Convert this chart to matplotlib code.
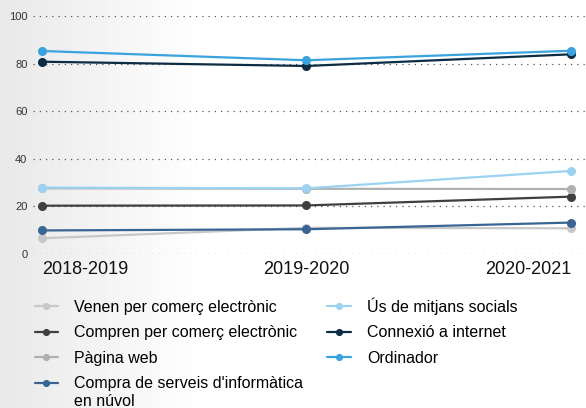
#!/usr/bin/env python3
"""Ús de les TIC a les empreses, per curs (%)."""

import numpy as np
import matplotlib
matplotlib.use("Agg")
import matplotlib.pyplot as plt

plt.rcParams["font.family"] = ["Liberation Sans", "DejaVu Sans"]

PERIODS = ["2018-2019", "2019-2020", "2020-2021"]

venen_comerc = [6.6, 11.0, 10.8]
compren_comerc = [20.3, 20.4, 24.1]
pagina_web = [27.6, 27.4, 27.3]
compra_nuvol = [9.9, 10.4, 13.2]
mitjans_socials = [27.9, 27.6, 34.9]
connexio_internet = [80.8, 79.0, 83.9]
ordinador = [85.3, 81.4, 85.4]

SERIES = [
    ("Venen per comerç electrònic", venen_comerc, "#c8c8c8"),
    ("Compren per comerç electrònic", compren_comerc, "#3f3f3f"),
    ("Pàgina web", pagina_web, "#b0b0b0"),
    ("Compra de serveis d'informàtica", compra_nuvol, "#386592"),
    ("Ús de mitjans socials", mitjans_socials, "#9dd3f1"),
    ("Connexió a internet", connexio_internet, "#0c2c44"),
    ("Ordinador", ordinador, "#3aa2dd"),
]
# second line of the wrapped legend entry
WRAP_LABEL = "Compra de serveis d'informàtica"
WRAP_TAIL = "en núvol"

Y_TICKS = [0, 20, 40, 60, 80, 100]

fig = plt.figure(figsize=(5.86, 4.08), dpi=100)

# soft grey fade on the left edge
bg = fig.add_axes([0, 0, 1, 1], zorder=-10)
grad = np.clip(np.linspace(0, 1, 586) / 0.35, 0, 1)
shade = 0.91 + 0.09 * grad
bg.imshow(np.tile(shade, (2, 1)), cmap="gray", vmin=0, vmax=1,
          aspect="auto", extent=[0, 1, 0, 1])
bg.axis("off")

ax = fig.add_axes([33 / 586, 1 - 254 / 408, 1 - 33 / 586, 238 / 408])
ax.patch.set_alpha(0)
x = np.arange(len(PERIODS))

for label, values, color in SERIES:
    ax.plot(x, values, color=color, lw=1.6, marker="o", markersize=5.5,
            label=label, clip_on=False, solid_capstyle="round")

ax.set_xlim(-0.034, 2.057)
ax.set_ylim(0, 100)
ax.set_yticks(Y_TICKS)
ax.set_xticks(x)
ax.set_xticklabels(PERIODS, fontsize=13, color="#111111")
# first label starts at its point, last one ends at it
for tick, ha in zip(ax.get_xticklabels(), ["left", "center", "right"]):
    tick.set_ha(ha)
ax.tick_params(axis="y", labelsize=8, colors="#333333", length=0, pad=4)
ax.tick_params(axis="x", length=0, pad=5)
ax.grid(True, axis="y", color="#555555", linestyle=(0, (1, 4)), linewidth=0.9)
ax.set_axisbelow(True)
for spine in ax.spines.values():
    spine.set_visible(False)

leg = fig.legend(loc="upper left", bbox_to_anchor=(0.048, 0.287), ncol=2,
                 frameon=False, fontsize=11.5, handlelength=1.5,
                 handletextpad=1.0, columnspacing=1.5, labelspacing=0.66,
                 borderaxespad=0, markerscale=0.75)

# put the wrapped tail right under its legend entry
fig.canvas.draw()
inv = fig.transFigure.inverted()
for txt in leg.get_texts():
    if txt.get_text() == WRAP_LABEL:
        bb = txt.get_window_extent()
        x0, y0 = inv.transform((bb.x0, bb.y0))
        fig.text(x0, y0 - 3 / 408, WRAP_TAIL, fontsize=11.5,
                 color=txt.get_color(), ha="left", va="top")

fig.savefig("out.png", dpi=100)
